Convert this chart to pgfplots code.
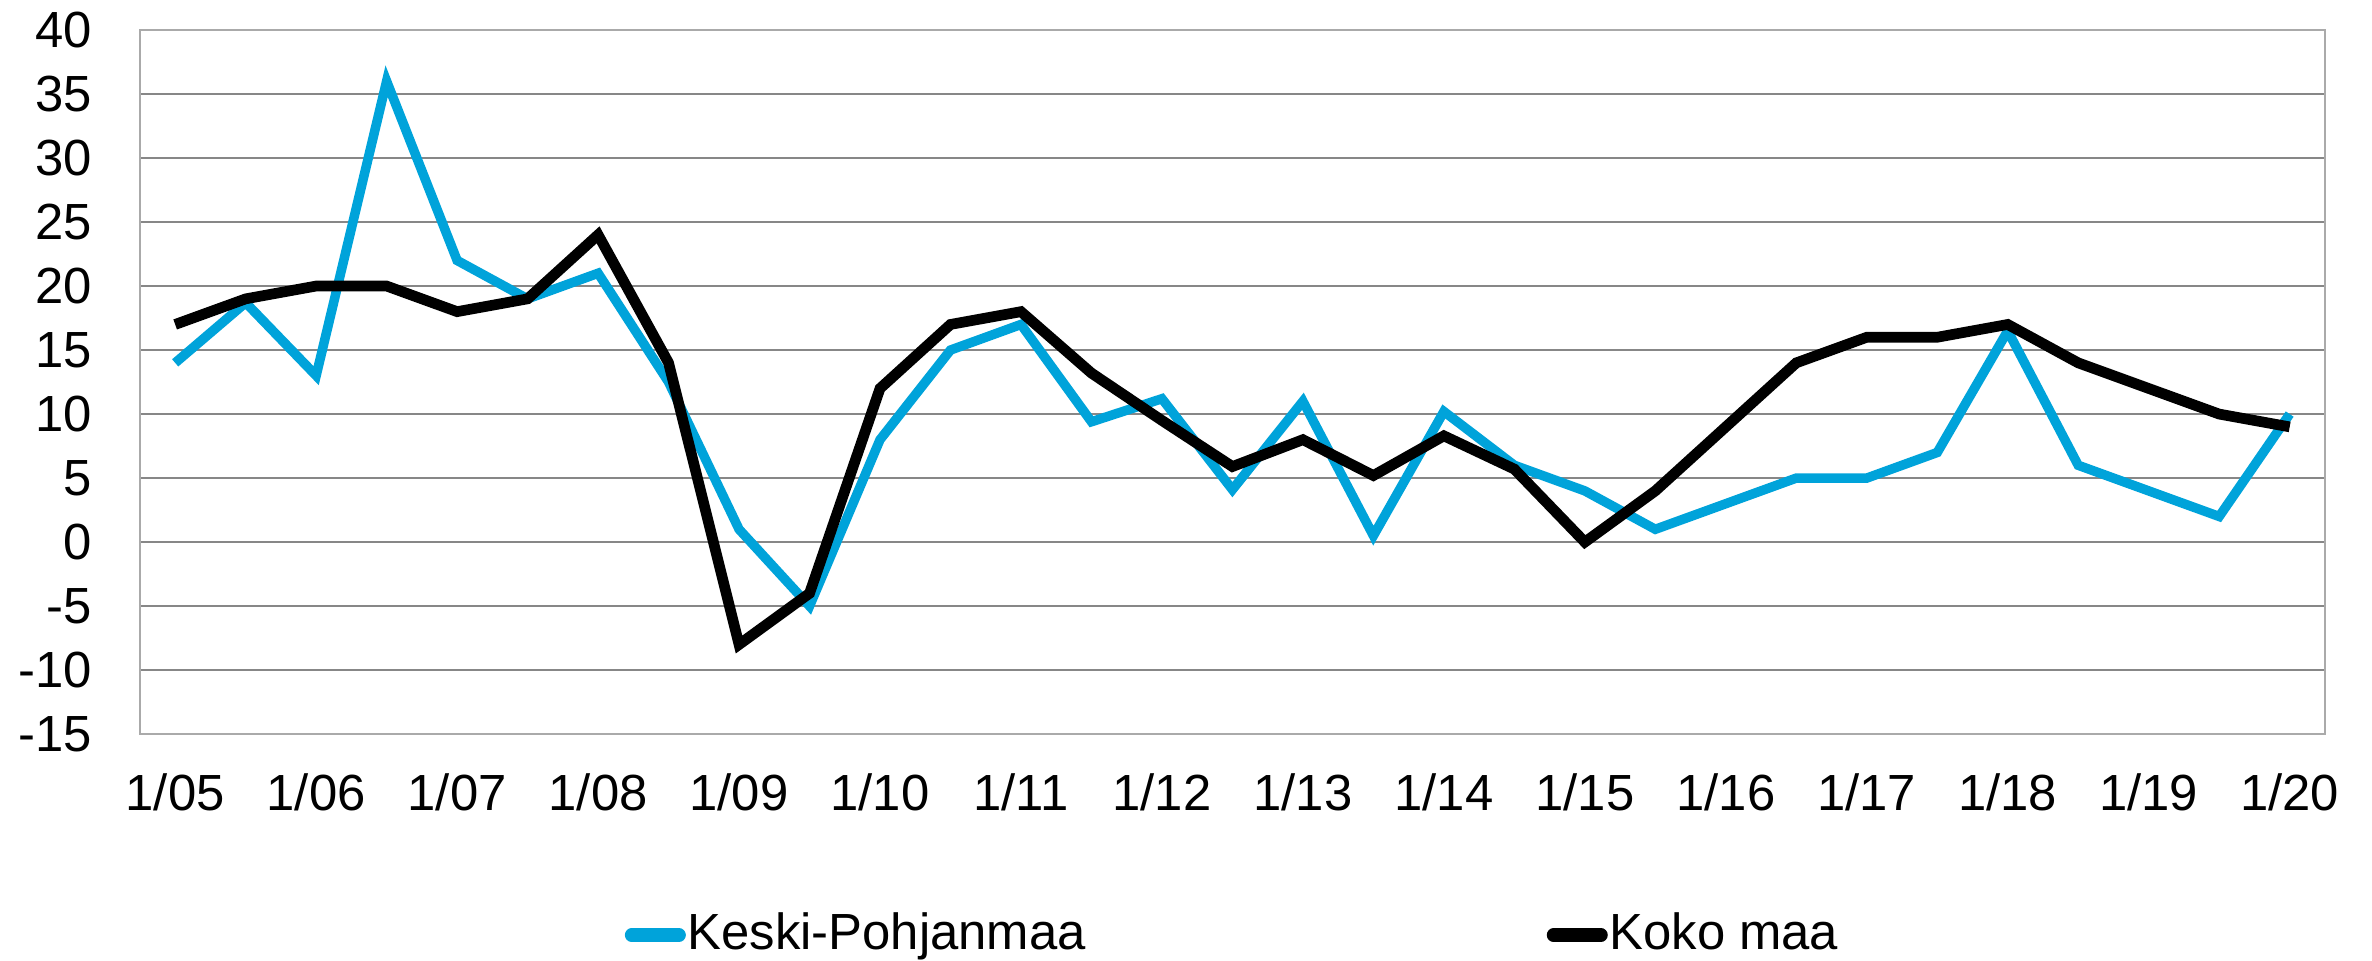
\documentclass[border=0pt]{standalone}
\usepackage{fontspec}
\setmainfont{Liberation Sans}
\usepackage{pgfplots}
\pgfplotsset{compat=1.18}
\definecolor{kpblue}{RGB}{0,163,218}
\definecolor{gridgray}{RGB}{135,135,135}
\definecolor{framegray}{RGB}{170,170,170}
\begin{document}
\fontsize{15}{18}\selectfont
\begin{tikzpicture}
\begin{axis}[
  width=644.8pt, height=207.8pt, scale only axis,
  xmin=-0.5, xmax=30.5, ymin=-15, ymax=40,
  ytick={-15,-10,...,40},
  xtick={0,2,...,30},
  xticklabels={1/05,1/06,1/07,1/08,1/09,1/10,1/11,1/12,1/13,1/14,1/15,1/16,1/17,1/18,1/19,1/20},
  axis line style={framegray, line width=0.7pt},
  ymajorgrids, grid style={gridgray, line width=0.55pt},
  major tick length=0pt,
  tick label style={font=\fontsize{15}{18}\selectfont},
  /pgf/number format/assume math mode=true,
  yticklabel style={inner sep=0pt, xshift=-14pt},
  xticklabel style={inner sep=0pt, yshift=-11.6pt},
  legend style={at={(0.5,0)}, anchor=center, yshift=-59.3pt, draw=none, fill=none,
    inner sep=0pt, nodes={inner sep=0.5pt},
    legend columns=2, font=\fontsize{15}{18}\selectfont,
    /tikz/every even column/.append style={column sep=135.5pt},
    /tikz/every odd column/.append style={column sep=0pt}},
  legend image code/.code={\draw[#1, line width=4pt, line cap=round] (0pt,0pt) -- (14pt,0pt);},
  legend cell align=left,
]
\coordinate (sw) at (rel axis cs:0,0);
\coordinate (ne) at (rel axis cs:1,1);
\addplot[kpblue, line width=2.8pt] coordinates {
(0,14) (1,18.7) (2,13) (3,36) (4,22) (5,19) (6,21) (7,12.5) (8,1) (9,-5)
(10,8) (11,15) (12,17) (13,9.4) (14,11.2) (15,4.1) (16,11) (17,0.5) (18,10.2) (19,6)
(20,4) (21,1) (22,3) (23,5) (24,5) (25,7) (26,16.5) (27,6) (28,4) (29,2) (30,10)
};
\addlegendentry{Keski-Pohjanmaa}
\addplot[black, line width=3.15pt] coordinates {
(0,17) (1,19) (2,20) (3,20) (4,18) (5,19) (6,24) (7,14) (8,-8) (9,-4)
(10,12) (11,17) (12,18) (13,13.2) (14,9.5) (15,5.9) (16,8) (17,5.2) (18,8.3) (19,5.7)
(20,0) (21,4) (22,9) (23,14) (24,16) (25,16) (26,17) (27,14) (28,12) (29,10) (30,9)
};
\addlegendentry{Koko maa}
\end{axis}
\pgfresetboundingbox
\path ([shift={(-41.3pt,-66.8pt)}]sw) rectangle ([shift={(13.9pt,8.85pt)}]ne);
\end{tikzpicture}
\end{document}
